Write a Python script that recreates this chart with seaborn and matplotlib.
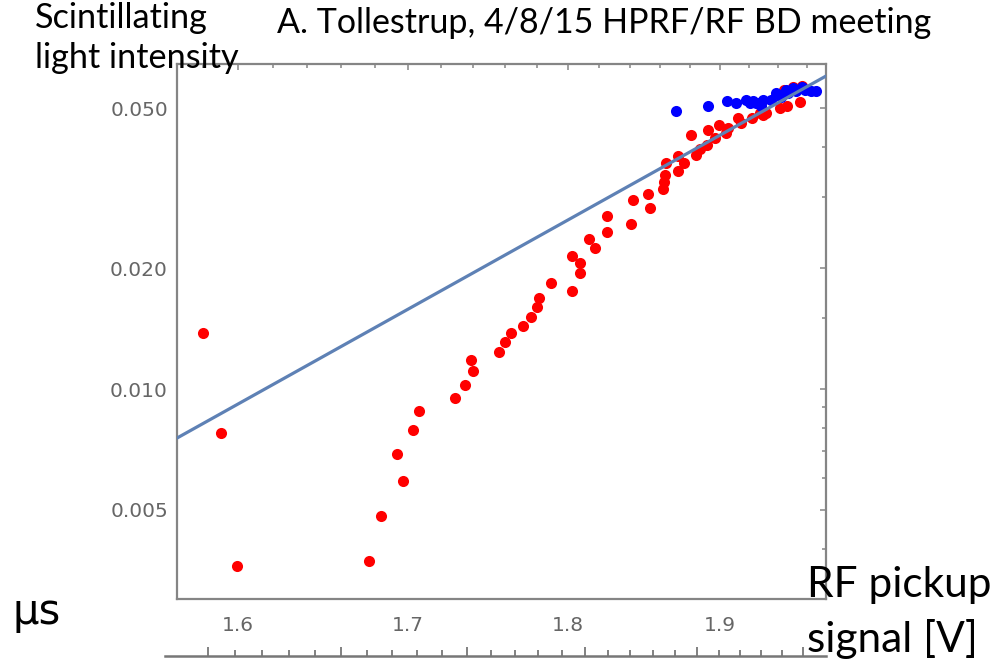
import numpy as np
import pandas as pd
import matplotlib
matplotlib.use("Agg")
import matplotlib.pyplot as plt
import seaborn as sns
from matplotlib.ticker import FixedLocator, FixedFormatter, NullFormatter

# ---------------- data ----------------
red_x = [1.580, 1.5903, 1.5994, 1.6765, 1.684, 1.6932, 1.6972, 1.7030, 1.7069,
         1.7288, 1.7350, 1.7401, 1.7387, 1.7559, 1.7599, 1.7638, 1.771, 1.7763,
         1.7801, 1.7815, 1.789, 1.8024, 1.8024, 1.8073, 1.8073, 1.8133, 1.8174,
         1.8251, 1.8251, 1.8409, 1.842, 1.852, 1.853, 1.8618, 1.8625, 1.863,
         1.864, 1.872, 1.872, 1.8759, 1.8842, 1.8809, 1.8865, 1.8914, 1.8919,
         1.8966, 1.8993, 1.904, 1.9058, 1.9125, 1.9147, 1.9216, 1.9273, 1.9294,
         1.9316, 1.941, 1.9464, 1.9548, 1.950, 1.9566, 1.944]
red_y = [0.01376, 0.00778, 0.00362, 0.00374, 0.00484, 0.00689, 0.00591, 0.00790, 0.00880,
         0.00951, 0.01025, 0.01109, 0.01181, 0.01234, 0.01312, 0.01376, 0.01438, 0.01509,
         0.01603, 0.01682, 0.01840, 0.01757, 0.02145, 0.02056, 0.01948, 0.02360, 0.02240,
         0.02466, 0.02702, 0.02576, 0.02956, 0.03059, 0.02818, 0.03144, 0.03284, 0.03412,
         0.03648, 0.03804, 0.03498, 0.03648, 0.03826, 0.04292, 0.03954, 0.04053, 0.04416,
         0.04211, 0.04545, 0.04333, 0.0447, 0.04723, 0.0460, 0.0472, 0.04861, 0.0482,
         0.0486, 0.05002, 0.0506, 0.05195, 0.0566, 0.0570, 0.0555]

blue_x = [1.8704, 1.8917, 1.9049, 1.9109, 1.9181, 1.9203, 1.9226, 1.9248, 1.927,
          1.9292, 1.9284, 1.9385, 1.942, 1.9454, 1.947, 1.950, 1.9524, 1.9566,
          1.9584, 1.9629, 1.9664, 1.935]
blue_y = [0.04923, 0.05068, 0.05224, 0.05147, 0.05246, 0.0515, 0.0522, 0.0517, 0.0515,
          0.0525, 0.0506, 0.05451, 0.0535, 0.05556, 0.0545, 0.0561, 0.0551, 0.0566,
          0.0556, 0.0551, 0.0553, 0.0525]

# straight fit line on the log-log axes: its two ends
fit_x = [1.5657, 1.9733]
fit_y = [0.00755, 0.0602]

x_major = [1.6, 1.7, 1.8, 1.9]
x_labels = ["1.6", "1.7", "1.8", "1.9"]
x_minor = [1.58, 1.62, 1.64, 1.66, 1.68, 1.72, 1.74, 1.76, 1.78,
           1.82, 1.84, 1.86, 1.88, 1.92, 1.94, 1.96]
y_major = [0.005, 0.01, 0.02, 0.05]
y_labels = ["0.005", "0.010", "0.020", "0.050"]
y_minor = [0.004, 0.006, 0.007, 0.008, 0.009, 0.015, 0.03, 0.04]

# partially visible axis of a lower panel
lower_major = [1.5, 1.6, 1.7, 1.8, 1.9, 2.0]
lower_minor = [1.52, 1.54, 1.56, 1.58, 1.62, 1.64, 1.66, 1.68, 1.72, 1.74, 1.76,
               1.78, 1.82, 1.84, 1.86, 1.88, 1.92, 1.94, 1.96, 1.98]

# ---------------- style ----------------
sns.set_style("white")
plt.rcParams['font.family'] = ['Lato', 'DejaVu Sans']

W, H = 1000, 664
fig = plt.figure(figsize=(W / 100, H / 100), dpi=100)

def fx(px):
    return px / W

def fy(py):
    return 1 - py / H

frame_col = '#858585'
tick_label_col = '#666666'

ax = fig.add_axes([fx(177), fy(599), fx(826 - 177), (599 - 64) / H])
ax.set_xscale('log')
ax.set_yscale('log')

df_red = pd.DataFrame({'x': red_x, 'y': red_y})
df_blue = pd.DataFrame({'x': blue_x, 'y': blue_y})
sns.scatterplot(data=df_red, x='x', y='y', color='#ff0000', s=64, linewidth=0,
                ax=ax, zorder=3)
sns.scatterplot(data=df_blue, x='x', y='y', color='#0000ff', s=64, linewidth=0,
                ax=ax, zorder=4)
sns.lineplot(x=fit_x, y=fit_y, color='#5e81b5', linewidth=2.3, ax=ax, zorder=5)

ax.set_xlim(1.5657, 1.9733)
ax.set_ylim(0.0030, 0.0645)
ax.set_xlabel('')
ax.set_ylabel('')

ax.xaxis.set_major_locator(FixedLocator(x_major))
ax.xaxis.set_major_formatter(FixedFormatter(x_labels))
ax.xaxis.set_minor_locator(FixedLocator(x_minor))
ax.xaxis.set_minor_formatter(NullFormatter())
ax.yaxis.set_major_locator(FixedLocator(y_major))
ax.yaxis.set_major_formatter(FixedFormatter(y_labels))
ax.yaxis.set_minor_locator(FixedLocator(y_minor))
ax.yaxis.set_minor_formatter(NullFormatter())

ax.tick_params(which='both', direction='in', top=True, right=True,
               color=frame_col, labelcolor=tick_label_col, width=1.1)
ax.tick_params(which='major', length=4.5)
ax.tick_params(which='minor', length=3)
ax.tick_params(axis='x', which='major', pad=12)
ax.tick_params(axis='y', which='major', pad=6.5)
for lab in ax.get_xticklabels() + ax.get_yticklabels():
    lab.set_fontfamily(['DejaVu Sans'])
    lab.set_fontsize(14.5)
for sp in ax.spines.values():
    sp.set_color(frame_col)
    sp.set_linewidth(1.6)
ax.grid(False)

# lower partial panel: only its top edge is visible
ax2 = fig.add_axes([fx(165), fy(656), fx(826 - 165), 0.06])
ax2.set_xscale('log')
ax2.set_xlim(1.4693, 2.0224)
ax2.patch.set_alpha(0)
for k in ['top', 'left', 'right']:
    ax2.spines[k].set_visible(False)
ax2.spines['bottom'].set_color('#777777')
ax2.spines['bottom'].set_linewidth(1.8)
ax2.xaxis.set_major_locator(FixedLocator(lower_major))
ax2.xaxis.set_minor_locator(FixedLocator(lower_minor))
ax2.xaxis.set_major_formatter(NullFormatter())
ax2.xaxis.set_minor_formatter(NullFormatter())
ax2.set_yticks([])
ax2.tick_params(which='both', direction='in', color='#777777', width=1.3,
                labelbottom=False, bottom=True)
ax2.tick_params(which='major', length=6.5)
ax2.tick_params(which='minor', length=4.5)

# ---------------- texts ----------------
txt = dict(color='black', va='baseline', ha='left')
fig.text(fx(35), fy(28), "Scintillating", fontsize=24.7, **txt)
fig.text(fx(35), fy(68), "light intensity", fontsize=24.7, **txt)
fig.text(fx(277), fy(33), "A. Tollestrup, 4/8/15 HPRF/RF BD meeting", fontsize=24.5, **txt)
fig.text(fx(13), fy(624), "\u03bcs", fontsize=30,
         family=['DejaVu Sans'], color='black', va='baseline', ha='left')
fig.text(fx(807), fy(597), "RF pickup", fontsize=30.5, **txt)
fig.text(fx(807), fy(652), "signal [V]", fontsize=30.5, **txt)

fig.savefig("out.png", dpi=100)
